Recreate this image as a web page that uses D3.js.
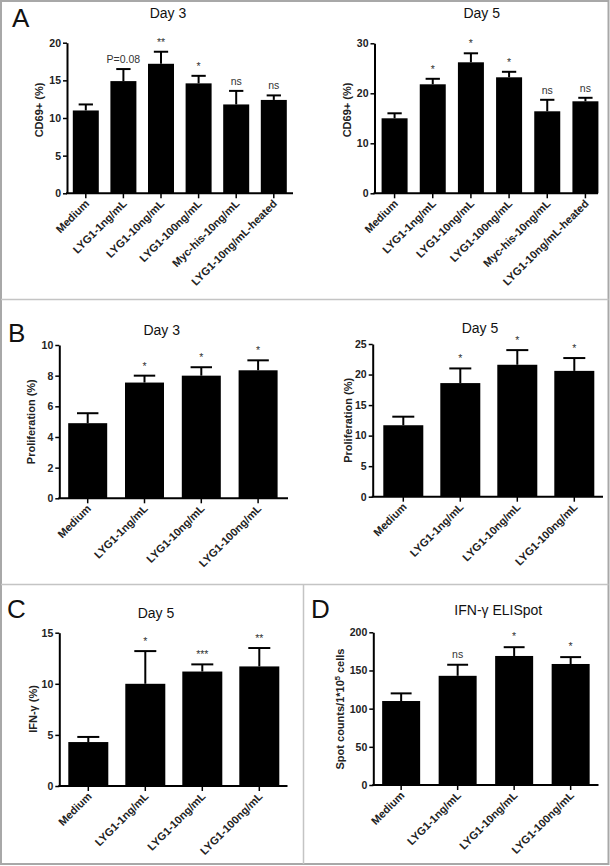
<!DOCTYPE html>
<html><head><meta charset="utf-8">
<script src="https://cdn.jsdelivr.net/npm/d3@7"></script>
<style>
body{margin:0;background:#fff}
svg{display:block}
text{font-family:Arial,"Liberation Sans",sans-serif}
</style>
</head><body>
<svg id="c" width="610" height="866"></svg>
<script>
// ---------- data ----------
const catsA = ["Medium","LYG1-1ng/mL","LYG1-10ng/mL","LYG1-100ng/mL","Myc-his-10ng/mL","LYG1-10ng/mL-heated"];
const catsB = ["Medium","LYG1-1ng/mL","LYG1-10ng/mL","LYG1-100ng/mL"];

const cd69Day3 = [11.0, 14.9, 17.2, 14.6, 11.8, 12.4];
const cd69Day3Err = [0.8, 1.6, 1.6, 1.0, 1.8, 0.6];
const cd69Day3Sig = ["", "P=0.08", "**", "*", "ns", "ns"];

const cd69Day5 = [15.0, 21.8, 26.2, 23.2, 16.4, 18.4];
const cd69Day5Err = [1.0, 1.1, 1.8, 1.1, 2.3, 0.7];
const cd69Day5Sig = ["", "*", "*", "*", "ns", "ns"];

const prolDay3 = [4.9, 7.55, 8.0, 8.35];
const prolDay3Err = [0.65, 0.45, 0.55, 0.65];
const prolDay3Sig = ["", "*", "*", "*"];

const prolDay5 = [11.7, 18.6, 21.6, 20.6];
const prolDay5Err = [1.4, 2.4, 2.4, 2.1];
const prolDay5Sig = ["", "*", "*", "*"];

const ifngDay5 = [4.3, 10.0, 11.2, 11.7];
const ifngDay5Err = [0.5, 3.2, 0.7, 1.8];
const ifngDay5Sig = ["", "*", "***", "**"];

const elispot = [110, 143, 169, 158.5];
const elispotErr = [10, 14.5, 11.5, 9];
const elispotSig = ["", "ns", "*", "*"];

const ticksA3 = [0, 5, 10, 15, 20];
const ticksA5 = [0, 10, 20, 30];
const ticksB3 = [0, 2, 4, 6, 8, 10];
const ticksB5 = [0, 5, 10, 15, 20, 25];
const ticksC = [0, 5, 10, 15];
const ticksD = [0, 50, 100, 150, 200];

// ---------- drawing ----------
const svg = d3.select("#c");

// frame and dividers
svg.append("rect").attr("x", 1).attr("y", 1).attr("width", 607.5).attr("height", 863)
  .attr("fill", "none").attr("stroke", "#a8a8a8").attr("stroke-width", 2);
svg.append("line").attr("x1", 1).attr("x2", 608.5).attr("y1", 299.5).attr("y2", 299.5)
  .attr("stroke", "#c4c4c4").attr("stroke-width", 1.5);
svg.append("line").attr("x1", 1).attr("x2", 608.5).attr("y1", 584.5).attr("y2", 584.5)
  .attr("stroke", "#c4c4c4").attr("stroke-width", 1.5);
svg.append("line").attr("x1", 303.5).attr("x2", 303.5).attr("y1", 584.5).attr("y2", 864)
  .attr("stroke", "#c4c4c4").attr("stroke-width", 1.5);

function letter(t, x, y) {
  svg.append("text").attr("x", x).attr("y", y).attr("font-size", 26).attr("fill", "#111").text(t);
}

function panel(o) {
  const g = svg.append("g");
  const x = d3.scaleBand().domain(o.cats).range(o.xr).padding(0);
  const y = d3.scaleLinear().domain([0, o.max]).range(o.yr);
  const cx = c => x(c) + x.bandwidth() / 2;

  // title
  g.append("text").attr("x", o.tx).attr("y", o.ty).attr("text-anchor", "middle")
    .attr("font-size", 14).attr("fill", "#111").text(o.title);

  // bars
  g.selectAll("rect.bar").data(o.vals).join("rect").attr("class", "bar")
    .attr("x", (d, i) => cx(o.cats[i]) - o.bw / 2)
    .attr("y", d => y(d))
    .attr("width", o.bw)
    .attr("height", d => y(0) - y(d))
    .attr("fill", "#000");

  // error bars (upper only)
  const cw = o.bw * 0.55;
  o.vals.forEach((v, i) => {
    const c = cx(o.cats[i]);
    const top = y(v + o.err[i]);
    g.append("line").attr("x1", c).attr("x2", c).attr("y1", y(v)).attr("y2", top)
      .attr("stroke", "#000").attr("stroke-width", 2);
    g.append("line").attr("x1", c - cw / 2).attr("x2", c + cw / 2).attr("y1", top).attr("y2", top)
      .attr("stroke", "#000").attr("stroke-width", 2);
    if (o.sig[i]) {
      g.append("text").attr("x", c).attr("y", top - o.so).attr("text-anchor", "middle")
        .attr("font-size", 10.5).attr("fill", "#333").text(o.sig[i]);
    }
  });

  // y axis
  const ya = g.append("g").attr("transform", `translate(${o.ax},0)`)
    .call(d3.axisLeft(y).tickValues(o.ticks).tickSize(4).tickSizeOuter(0).tickPadding(2));
  ya.select(".domain").attr("stroke-width", 2);
  ya.selectAll(".tick line").attr("stroke-width", 1.5);
  ya.selectAll(".tick text").attr("font-size", 10.5).attr("font-weight", "bold")
    .attr("fill", "#222").style("font-family", "Arial, 'Liberation Sans', sans-serif");

  // x axis
  const y0 = y(0);
  g.append("line").attr("x1", o.ax - 1).attr("x2", o.xend).attr("y1", y0).attr("y2", y0)
    .attr("stroke", "#000").attr("stroke-width", 2);
  const xa = g.append("g").attr("transform", `translate(0,${y0})`)
    .call(d3.axisBottom(x).tickSize(5).tickFormat(""));
  xa.select(".domain").remove();
  xa.selectAll(".tick line").attr("stroke-width", 1.5);

  g.selectAll("text.cat").data(o.cats).join("text").attr("class", "cat")
    .attr("transform", d => `translate(${cx(d) + 4},${y0 + 11}) rotate(-45)`)
    .attr("text-anchor", "end").attr("font-size", 11).attr("font-weight", "bold")
    .attr("fill", "#222").text(d => d);

  // y label
  const yl = g.append("text")
    .attr("transform", `translate(${o.lx},${o.ly}) rotate(-90)`)
    .attr("text-anchor", "middle").attr("font-size", 11).attr("font-weight", "bold")
    .attr("fill", "#222");
  if (o.ylabelParts) {
    o.ylabelParts.forEach(p => {
      const t = yl.append("tspan").text(p.t);
      if (p.sup) t.attr("baseline-shift", "super").attr("font-size", 7.5);
    });
  } else {
    yl.text(o.ylabel);
  }
}

letter("A", 12, 27);
letter("B", 8, 342);
letter("C", 7, 618);
letter("D", 311, 618);

panel({cats: catsA, vals: cd69Day3, err: cd69Day3Err, sig: cd69Day3Sig, ticks: ticksA3, max: 20,
  xr: [67, 292.6], yr: [193.3, 42.7], ax: 67, xend: 293, bw: 26, so: 6,
  title: "Day 3", tx: 168, ty: 18, ylabel: "CD69+ (%)", lx: 43, ly: 110});

panel({cats: catsA, vals: cd69Day5, err: cd69Day5Err, sig: cd69Day5Sig, ticks: ticksA5, max: 30,
  xr: [375.5, 604.5], yr: [193.3, 43.3], ax: 374.5, xend: 598, bw: 26, so: 6,
  title: "Day 5", tx: 481.7, ty: 18, ylabel: "CD69+ (%)", lx: 351, ly: 110});

panel({cats: catsB, vals: prolDay3, err: prolDay3Err, sig: prolDay3Sig, ticks: ticksB3, max: 10,
  xr: [59.3, 286.5], yr: [498.3, 345], ax: 59.3, xend: 288, bw: 39, so: 6,
  title: "Day 3", tx: 161.7, ty: 335, ylabel: "Proliferation (%)", lx: 34.5, ly: 421.7});

panel({cats: catsB, vals: prolDay5, err: prolDay5Err, sig: prolDay5Sig, ticks: ticksB5, max: 25,
  xr: [374.8, 602.8], yr: [496.7, 344], ax: 372.7, xend: 603, bw: 40, so: 6,
  title: "Day 5", tx: 480, ty: 333, ylabel: "Proliferation (%)", lx: 351.5, ly: 420.3});

panel({cats: catsB, vals: ifngDay5, err: ifngDay5Err, sig: ifngDay5Sig, ticks: ticksC, max: 15,
  xr: [59.8, 287.8], yr: [786, 632.7], ax: 59.3, xend: 287.5, bw: 40, so: 6,
  title: "Day 5", tx: 156, ty: 618, ylabel: "IFN-γ (%)", lx: 37, ly: 709});

panel({cats: catsB, vals: elispot, err: elispotErr, sig: elispotSig, ticks: ticksD, max: 200,
  xr: [372.9, 598.9], yr: [785, 632.3], ax: 373.3, xend: 598.5, bw: 38, so: 7,
  title: "IFN-γ ELISpot", tx: 498.3, ty: 615, lx: 344, ly: 709,
  ylabelParts: [{t: "Spot counts/1*10"}, {t: "5", sup: true}, {t: " cells"}]});
</script>
</body></html>
